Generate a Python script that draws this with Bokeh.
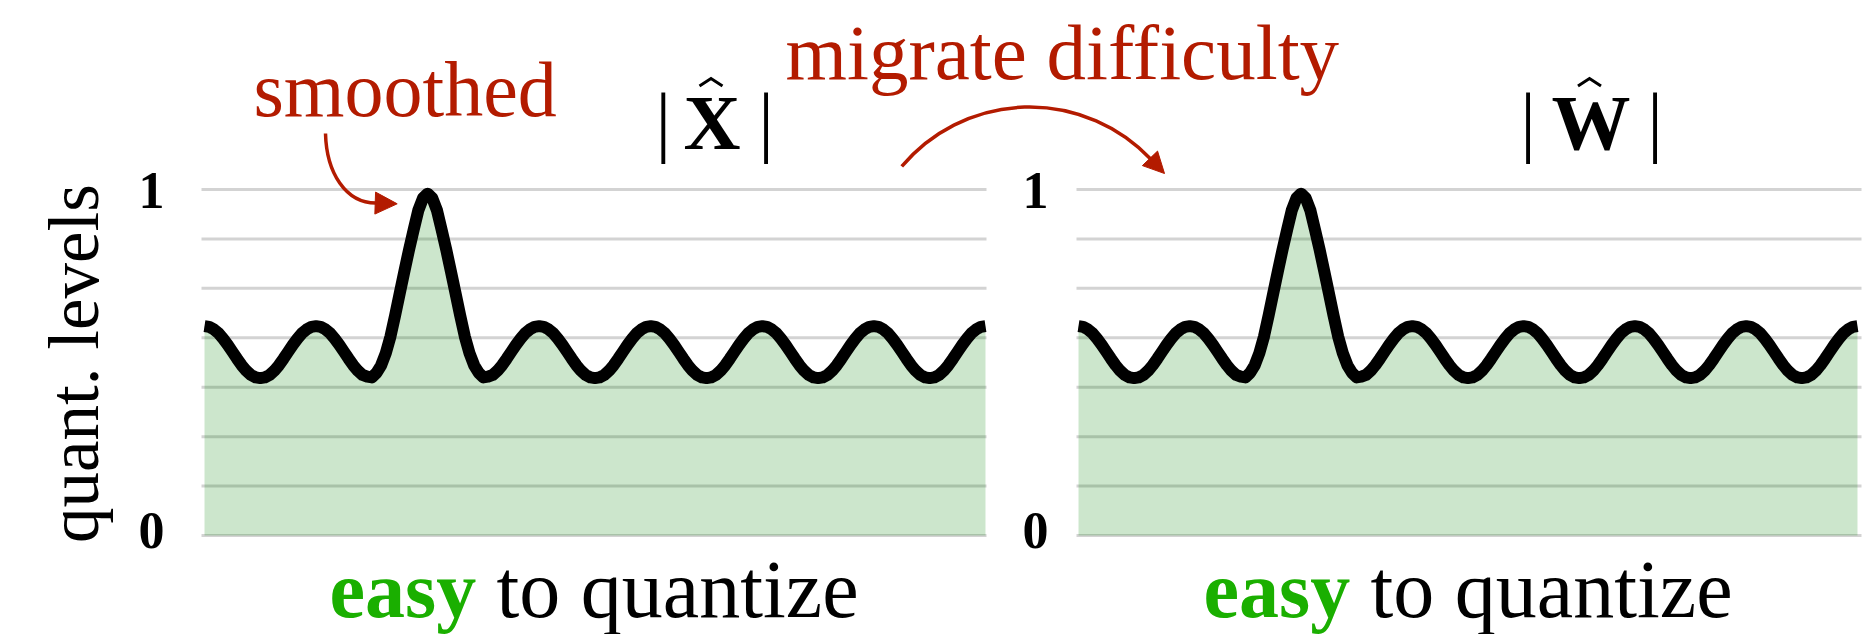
import math
from bokeh.plotting import figure
from bokeh.models import Range1d, Arrow, NormalHead
from bokeh.core.properties import value
from bokeh.embed import file_html
from bokeh.resources import INLINE

# ---------------- data ----------------
quant_levels = [0, 1/7, 2/7, 3/7, 4/7, 5/7, 6/7, 1]      # horizontal quantisation levels
tick_values = [0, 1]
tick_labels = ["0", "1"]

# magnitude profile along the channel axis (169 samples), |X^| after smoothing
x_hat = [
    0.605, 0.603, 0.596, 0.585, 0.569, 0.551, 0.531, 0.511, 0.492, 0.476, 0.464, 0.457,
    0.455, 0.457, 0.464, 0.476, 0.492, 0.511, 0.531, 0.551, 0.569, 0.585, 0.596, 0.603,
    0.605, 0.603, 0.596, 0.585, 0.569, 0.551, 0.531, 0.511, 0.492, 0.476, 0.464, 0.459,
    0.457,
    0.470, 0.492, 0.527, 0.575, 0.636, 0.700, 0.764, 0.826, 0.884, 0.940, 0.975,
    0.988,
    0.975, 0.940, 0.884, 0.826, 0.764, 0.700, 0.636, 0.575, 0.527, 0.492, 0.470,
    0.457,
    0.459, 0.464, 0.476, 0.492, 0.511, 0.531, 0.551, 0.569, 0.585, 0.596, 0.603,
    0.605, 0.603, 0.596, 0.585, 0.569, 0.551, 0.531, 0.511, 0.492, 0.476, 0.464, 0.457,
    0.455, 0.457, 0.464, 0.476, 0.492, 0.511, 0.531, 0.551, 0.569, 0.585, 0.596, 0.603,
    0.605, 0.603, 0.596, 0.585, 0.569, 0.551, 0.531, 0.511, 0.492, 0.476, 0.464, 0.457,
    0.455, 0.457, 0.464, 0.476, 0.492, 0.511, 0.531, 0.551, 0.569, 0.585, 0.596, 0.603,
    0.605, 0.603, 0.596, 0.585, 0.569, 0.551, 0.531, 0.511, 0.492, 0.476, 0.464, 0.457,
    0.455, 0.457, 0.464, 0.476, 0.492, 0.511, 0.531, 0.551, 0.569, 0.585, 0.596, 0.603,
    0.605, 0.603, 0.596, 0.585, 0.569, 0.551, 0.531, 0.511, 0.492, 0.476, 0.464, 0.457,
    0.455, 0.457, 0.464, 0.476, 0.492, 0.511, 0.531, 0.551, 0.569, 0.585, 0.596, 0.603,
    0.605,
]
# |W^| profile: the right panel shows the same shape
w_hat = list(x_hat)
channel = list(range(len(x_hat)))

y_label = "quant. levels"
panel_titles = ["X", "W"]
caption_strong = "easy"
caption_rest = "to quantize"
note_left = "smoothed"
note_mid = "migrate difficulty"

# ---------------- layout ----------------
W, H = 1865, 634
OX, OY = 0, 0
SERIF = value("Liberation Serif")
RED = "#b31b00"
GREEN_TXT = "#1aaf00"
TXT_SHIFT = 0.345   # compensates the renderer's baseline placement (fraction of font size)


def lv(ypx):
    """pixel row of the picture -> quantisation-level units"""
    return (535.0 - ypx) / 346.0


def tb(ypx, size):
    """baseline row for a text of the given size"""
    return lv(ypx - TXT_SHIFT * size)


def panel_range(x0, x1, n):
    s = (x1 - x0) / (n - 1)
    return Range1d((OX - x0) / s, (OX + W - x0) / s)


p = figure(width=W, height=H, x_range=Range1d(OX, OX + W),
           y_range=Range1d(lv(OY + H), lv(OY)),
           output_backend="svg", toolbar_location=None, min_border=0,
           x_axis_type=None, y_axis_type=None)
p.outline_line_color = None
p.background_fill_color = "white"
p.border_fill_color = "white"
p.grid.visible = False

panels = [
    dict(name="left", data=x_hat, cx0=204, cx1=985, gx0=201, gx1=986, tick_x=151,
         title=panel_titles[0], title_x=711.5, hat_x=710.5, bars=(662.8, 765.5), cap_x=329),
    dict(name="right", data=w_hat, cx0=1078, cx1=1857, gx0=1076, gx1=1861, tick_x=1035,
         title=panel_titles[1], title_x=1590.5, hat_x=1589.0, bars=(1527.5, 1654.5), cap_x=1203),
]
p.extra_x_ranges = {pn["name"]: panel_range(pn["cx0"], pn["cx1"], len(channel)) for pn in panels}

for pn in panels:
    n = len(quant_levels)
    p.segment(x0=[pn["gx0"]] * n, x1=[pn["gx1"]] * n, y0=quant_levels, y1=quant_levels,
              line_color="#d3d3d3", line_width=3)
    p.varea(x=channel, y1=[0] * len(channel), y2=pn["data"], x_range_name=pn["name"],
            fill_color="#008000", fill_alpha=0.2)
    p.line(channel, pn["data"], x_range_name=pn["name"], line_color="black",
           line_width=12, line_join="round", line_cap="butt")
    # tick labels
    p.text(x=[pn["tick_x"]] * 2, y=[tb(548, 52), tb(208, 52)], text=tick_labels,
           text_font=SERIF, text_font_size="52px", text_font_style="bold",
           text_align="center", text_baseline="alphabetic", text_color="black")
    # title |X^| / |W^|
    p.text(x=list(pn["bars"]), y=[tb(147, 78)] * 2, text=["|", "|"], text_font=SERIF,
           text_font_size="78px", text_align="center", text_baseline="alphabetic",
           text_color="black")
    p.text(x=[pn["title_x"]], y=[tb(149, 79)], text=[pn["title"]], text_font=SERIF,
           text_font_size="79px", text_font_style="bold", text_align="center",
           text_baseline="alphabetic", text_color="black")
    hx = pn["hat_x"]
    p.line(x=[hx - 11.5, hx, hx + 11.5], y=[lv(85.5), lv(78), lv(85.5)],
           line_color="black", line_width=3, line_join="miter")
    # caption
    p.text(x=[pn["cap_x"]], y=[tb(617, 80)], text=[caption_strong], text_font=SERIF,
           text_font_size="80px", text_font_style="bold", text_align="left",
           text_baseline="alphabetic", text_color=GREEN_TXT)
    p.text(x=[pn["cap_x"] + 167], y=[tb(617, 82)], text=[caption_rest], text_font=SERIF,
           text_font_size="82px", text_align="left", text_baseline="alphabetic",
           text_color="black")

# y label (rotated: baseline offset acts along x)
p.text(x=[98 - TXT_SHIFT * 71], y=[lv(363)], text=[y_label], angle=math.pi / 2,
       text_font=SERIF, text_font_size="71px", text_align="center",
       text_baseline="alphabetic", text_color="black")

# annotations
p.text(x=[253], y=[tb(116, 78)], text=[note_left], text_font=SERIF, text_font_size="78px",
       text_align="left", text_baseline="alphabetic", text_color=RED)
p.text(x=[785], y=[tb(79, 79)], text=[note_mid], text_font=SERIF, text_font_size="79px",
       text_align="left", text_baseline="alphabetic", text_color=RED)

p.bezier(x0=[325], y0=[lv(133)], x1=[376], y1=[lv(202.6)], cx0=[326], cy0=[lv(172)],
         cx1=[345], cy1=[lv(203)], line_color=RED, line_width=3.5)
p.add_layout(Arrow(end=NormalHead(size=22, fill_color=RED, line_color=RED, line_width=1),
                   x_start=375, y_start=lv(202.6), x_end=396.7, y_end=lv(203.3),
                   line_alpha=0))

p.arc(x=[1029], y=[lv(273.5)], radius=167, start_angle=43.5, end_angle=139.9,
      start_angle_units="deg", end_angle_units="deg", direction="anticlock",
      line_color=RED, line_width=3.5)
p.add_layout(Arrow(end=NormalHead(size=21, fill_color=RED, line_color=RED, line_width=1),
                   x_start=1150.1, y_start=lv(158.5), x_end=1164, y_end=lv(173),
                   line_alpha=0))

open("out.html", "w").write(file_html(p, INLINE))
